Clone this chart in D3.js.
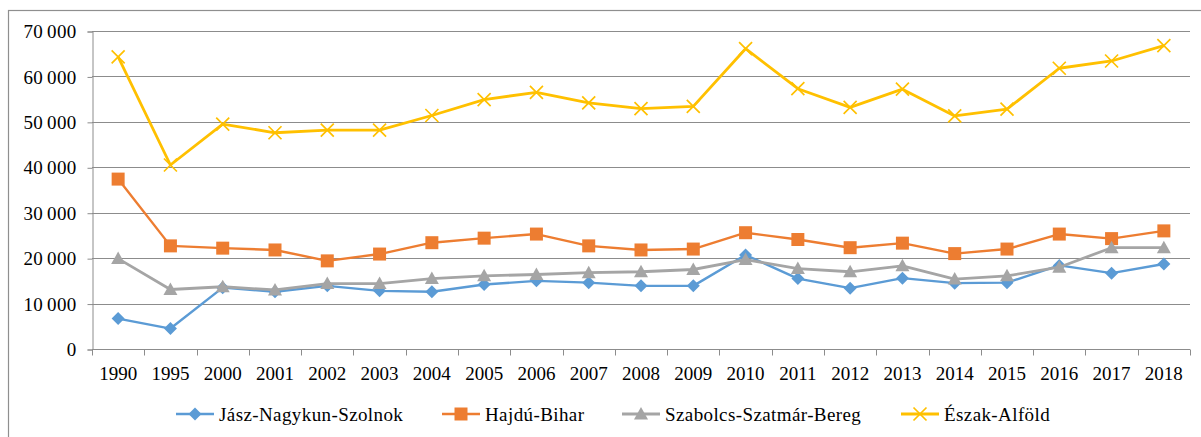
<!DOCTYPE html>
<html>
<head>
<meta charset="utf-8">
<script src="https://cdn.jsdelivr.net/npm/d3@7"></script>
<style>
  body { margin: 0; background: #fff; }
  #svg, #svg text { font-family: 'Liberation Serif', 'Times New Roman', Times, serif; fill: #000; }
</style>
</head>
<body>
<svg id="svg" width="1201" height="437"></svg>
<script>
// categories
var years = ['1990', '1995', '2000', '2001', '2002', '2003', '2004', '2005', '2006', '2007',
  '2008', '2009', '2010', '2011', '2012', '2013', '2014', '2015', '2016', '2017', '2018'];

// series values
var jaszNagykunSzolnok = [6700, 4500, 13500, 12600, 13900, 12800, 12600, 14200, 15000, 14600,
  13900, 13900, 20700, 15500, 13400, 15600, 14500, 14600, 18400, 16700, 18700];
var hajduBihar = [37400, 22700, 22200, 21800, 19400, 20900, 23400, 24400, 25300, 22700,
  21800, 22000, 25600, 24100, 22300, 23300, 21000, 22000, 25300, 24300, 26000];
var szabolcsSzatmarBereg = [19900, 13100, 13700, 13000, 14400, 14400, 15500, 16100, 16400, 16800,
  17000, 17500, 19700, 17700, 17000, 18300, 15400, 16100, 18000, 22300, 22300];
var eszakAlfold = [64300, 40500, 49500, 47600, 48200, 48200, 51400, 54900, 56500, 54200,
  52900, 53400, 66100, 57300, 53200, 57200, 51300, 52800, 61800, 63400, 66800];

var seriesNames = ['Jász-Nagykun-Szolnok', 'Hajdú-Bihar', 'Szabolcs-Szatmár-Bereg', 'Észak-Alföld'];
var yTicks = [0, 10000, 20000, 30000, 40000, 50000, 60000, 70000];

(function() {

var FONT = "'Liberation Serif', 'Times New Roman', Times, serif";

var series = [
  {name: seriesNames[0], values: jaszNagykunSzolnok, color: '#5b9bd5', marker: 'diamond', width: 2.4},
  {name: seriesNames[1], values: hajduBihar, color: '#ed7d31', marker: 'square', width: 2.4},
  {name: seriesNames[2], values: szabolcsSzatmarBereg, color: '#a5a5a5', marker: 'triangle', width: 2.8},
  {name: seriesNames[3], values: eszakAlfold, color: '#ffc000', marker: 'cross', width: 2.8}
];

var svg = d3.select('#svg');

// outer chart frame
svg.append('rect')
  .attr('x', 8.5).attr('y', 10.5)
  .attr('width', 1200).attr('height', 440)
  .attr('fill', 'none')
  .attr('stroke', '#8f8f8f')
  .attr('stroke-width', 1.2);

var plotLeft = 92, plotRight = 1190, plotTop = 31, plotBottom = 349;

var x = d3.scaleBand().domain(years).range([plotLeft, plotRight]).padding(0);
var y = d3.scaleLinear().domain([0, 70000]).range([plotBottom, plotTop]);
var cx = function(i) { return x(years[i]) + x.bandwidth() / 2; };

var fmt = d3.formatLocale({decimal: ',', thousands: '\u2009', grouping: [3], currency: ['', '']}).format(',d');

// gridlines
svg.append('g')
  .selectAll('line')
  .data(yTicks)
  .enter().append('line')
  .attr('x1', plotLeft).attr('x2', plotRight)
  .attr('y1', d => Math.round(y(d)) + 0.5)
  .attr('y2', d => Math.round(y(d)) + 0.5)
  .attr('stroke', '#8c8c8c')
  .attr('stroke-width', 1.1);

// y axis
var yAxis = svg.append('g')
  .attr('transform', 'translate(' + (plotLeft + 0.5) + ',0.5)')
  .call(d3.axisLeft(y).tickValues(yTicks).tickFormat(fmt).tickSize(5).tickPadding(11));
yAxis.attr('font-family', FONT);
yAxis.selectAll('line, path').attr('stroke', '#8c8c8c');
yAxis.selectAll('text')
  .attr('font-size', 19)
  .attr('letter-spacing', 0.3)
  .style('font-family', FONT);

// x axis with ticks at category boundaries
var xg = svg.append('g').attr('transform', 'translate(0,' + (Math.round(plotBottom) + 0.5) + ')');
xg.append('line')
  .attr('x1', plotLeft).attr('x2', plotRight)
  .attr('stroke', '#8c8c8c');
xg.selectAll('line.tick')
  .data(years.concat(['end']))
  .enter().append('line')
  .attr('class', 'tick')
  .attr('x1', (d, i) => Math.round(plotLeft + i * x.bandwidth()) + 0.5)
  .attr('x2', (d, i) => Math.round(plotLeft + i * x.bandwidth()) + 0.5)
  .attr('y1', 0).attr('y2', 6)
  .attr('stroke', '#8c8c8c');
xg.selectAll('text')
  .data(years)
  .enter().append('text')
  .attr('x', (d, i) => cx(i))
  .attr('y', 30)
  .attr('text-anchor', 'middle')
  .attr('font-size', 19)
  .style('font-family', FONT)
  .text(d => d);

// marker shapes
var markerPath = {
  diamond: 'M0,-6.5L6.5,0L0,6.5L-6.5,0Z',
  square: 'M-6.5,-6.5H6.5V6.5H-6.5Z',
  triangle: 'M0,-7L7,5.5L-7,5.5Z',
  cross: 'M-6.5,-6.5L6.5,6.5M-6.5,6.5L6.5,-6.5'
};

function drawMarker(g, type, color) {
  var p = g.append('path').attr('d', markerPath[type]);
  if (type === 'cross') {
    p.attr('fill', 'none').attr('stroke', color).attr('stroke-width', 1.7);
  } else {
    p.attr('fill', color);
  }
}

var line = d3.line().x((d, i) => cx(i)).y(d => y(d));

series.forEach(s => {
  var g = svg.append('g');
  g.append('path')
    .attr('d', line(s.values))
    .attr('fill', 'none')
    .attr('stroke', s.color)
    .attr('stroke-width', s.width)
    .attr('stroke-linejoin', 'round');
  s.values.forEach((v, i) => {
    drawMarker(g.append('g').attr('transform', 'translate(' + cx(i) + ',' + y(v) + ')'), s.marker, s.color);
  });
});

// legend
var legendStarts = [176, 442, 622, 901];
var legend = svg.append('g').attr('transform', 'translate(0,414)');
series.forEach((s, i) => {
  var g = legend.append('g').attr('transform', 'translate(' + legendStarts[i] + ',0)');
  g.append('line')
    .attr('x1', 0).attr('x2', 38)
    .attr('stroke', s.color)
    .attr('stroke-width', s.width);
  drawMarker(g.append('g').attr('transform', 'translate(19,0)'), s.marker, s.color);
  g.append('text')
    .attr('x', 43)
    .attr('y', 6.5)
    .attr('font-size', 19)
    .attr('letter-spacing', 0.4)
    .style('font-family', FONT)
    .text(s.name);
});

})();
</script>
</body>
</html>
